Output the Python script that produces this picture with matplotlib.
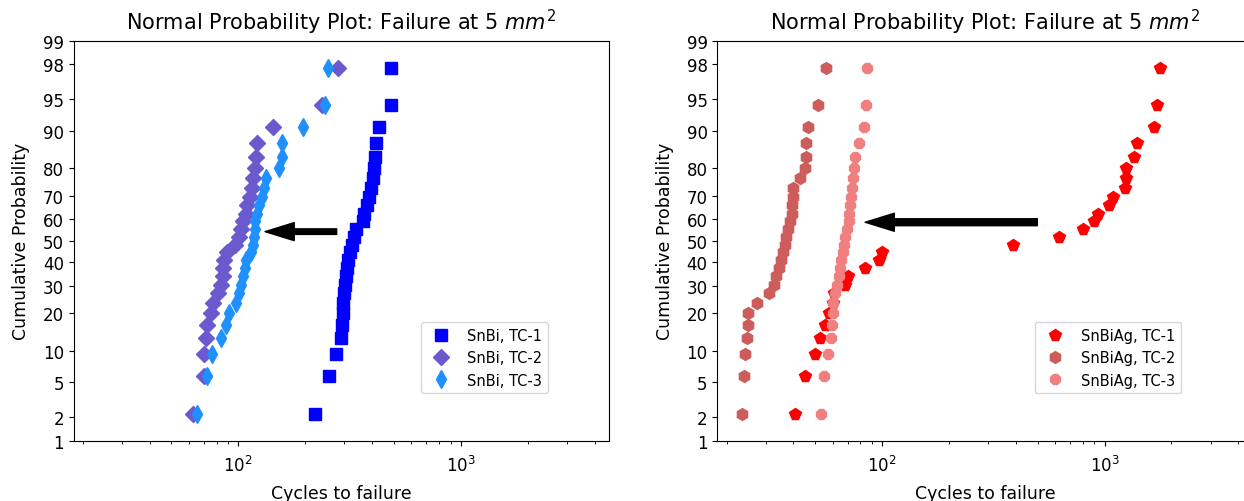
import matplotlib
matplotlib.use('Agg')
import matplotlib.pyplot as plt
from statistics import NormalDist

# Probabilidades acumuladas (en %) de cada punto, iguales para todas las series
prob = [2.2, 5.8, 9.3, 12.8, 16.4, 19.9, 23.5, 27.0, 30.5, 34.1, 37.6, 41.2, 44.7, 48.2,
        51.8, 55.3, 58.9, 62.4, 65.9, 69.5, 73.0, 76.6, 80.1, 83.6, 87.2, 90.7, 94.3, 97.8]

# Ciclos a la falla, SnBi
snbi_tc1 = [222, 257, 274, 289, 292, 296, 297, 299, 301, 304, 307, 313, 318, 326,
            331, 337, 365, 368, 378, 387, 394, 405, 408, 412, 418, 429, 485, 486]
snbi_tc2 = [62.5, 70, 70.5, 72, 72.5, 75.5, 77, 81, 83.5, 85, 85.5, 86, 89, 97,
            101, 103, 105.5, 108, 110, 113, 115, 117, 119, 120, 122, 143, 238, 282]
snbi_tc3 = [65, 72.5, 76.5, 83.5, 88, 90.5, 97.5, 101, 103, 105.5, 107, 108, 114, 116,
            117.5, 118.5, 119.5, 121, 124, 128, 131, 134, 152, 157, 158, 195, 246, 253]

# Ciclos a la falla, SnBiAg
snbiag_tc1 = [40.5, 45, 49.8, 52.8, 55.5, 58, 60, 61, 68.5, 70.5, 84, 96.5, 100, 388,
              625, 800, 898, 936, 1049, 1093, 1234, 1248, 1255, 1351, 1398, 1663, 1720, 1785]
snbiag_tc2 = [23.4, 24, 24.1, 24.6, 24.9, 24.9, 27.3, 31, 32.8, 33.5, 34.5, 35.2, 35.8, 36.5,
              37.2, 37.8, 38.6, 39.2, 39.4, 39.6, 39.8, 42.7, 45, 45.5, 45.6, 46.6, 51.3, 56.2]
snbiag_tc3 = [53, 55, 57, 58.7, 59.5, 60, 60.5, 61.6, 62.7, 64.2, 64.9, 65.6, 66.5, 67.2,
              68.4, 69.6, 70.7, 71.3, 72, 72.7, 73.3, 74, 74.5, 75.5, 78.5, 82.6, 84.5, 85.2]

labels_snbi = ['SnBi, TC-1', 'SnBi, TC-2', 'SnBi, TC-3']
labels_snbiag = ['SnBiAg, TC-1', 'SnBiAg, TC-2', 'SnBiAg, TC-3']

yticks = [1, 2, 5, 10, 20, 30, 40, 50, 60, 70, 80, 90, 95, 98, 99]

# Flechas: (x cola, x punta, probabilidad %)
arrow_snbi = (277, 132, 54.2)
arrow_snbiag = (499, 84, 58.5)

nd = NormalDist()


def probit(p):
    return [nd.inv_cdf(v / 100.) for v in p]


def armar_ejes(ax):
    ax.set_xscale('log')
    ax.set_xlim(18.2, 4650)
    ax.set_ylim(probit([1, 99]))
    ax.set_yticks(probit(yticks))
    ax.set_yticklabels([str(t) for t in yticks])
    ax.tick_params(labelsize=12)
    ax.tick_params(axis='x', pad=7)
    ax.set_title('Normal Probability Plot: Failure at 5 $mm^2$', fontsize=15, pad=8)
    ax.set_xlabel('Cycles to failure', fontsize=12.5, labelpad=6)
    ax.set_ylabel('Cumulative Probability', fontsize=12.5, labelpad=9)


fig = plt.figure(figsize=(12.44, 5.02), dpi=100)
ax1 = fig.add_axes([73.6 / 1244, 60.3 / 502, 535.6 / 1244, 400 / 502])
ax2 = fig.add_axes([717.4 / 1244, 60.3 / 502, 535.6 / 1244, 400 / 502])

y = probit(prob)

ax1.plot(snbi_tc1, y, 's', color='blue', ms=8.5, label=labels_snbi[0])
ax1.plot(snbi_tc2, y, 'D', color='slateblue', ms=8, label=labels_snbi[1])
ax1.plot(snbi_tc3, y, 'd', color='dodgerblue', ms=9, label=labels_snbi[2])
armar_ejes(ax1)
ax1.legend(loc='lower right', bbox_to_anchor=(0.9, 0.1), fontsize=10.5, numpoints=1)
ax1.annotate('', xy=(arrow_snbi[1], probit([arrow_snbi[2]])[0]),
             xytext=(arrow_snbi[0], probit([arrow_snbi[2]])[0]),
             arrowprops=dict(facecolor='black', edgecolor='black', width=4, headwidth=13, headlength=21))

ax2.plot(snbiag_tc1, y, 'p', color='red', ms=8.5, label=labels_snbiag[0])
ax2.plot(snbiag_tc2, y, 'h', color='indianred', ms=8.5, label=labels_snbiag[1])
ax2.plot(snbiag_tc3, y, '8', color='lightcoral', ms=8.5, label=labels_snbiag[2])
armar_ejes(ax2)
ax2.legend(loc='lower right', bbox_to_anchor=(0.88, 0.1), fontsize=10.5, numpoints=1)
ax2.annotate('', xy=(arrow_snbiag[1], probit([arrow_snbiag[2]])[0]),
             xytext=(arrow_snbiag[0], probit([arrow_snbiag[2]])[0]),
             arrowprops=dict(facecolor='black', edgecolor='black', width=5, headwidth=13, headlength=21))

fig.savefig('out.png', dpi=100)
